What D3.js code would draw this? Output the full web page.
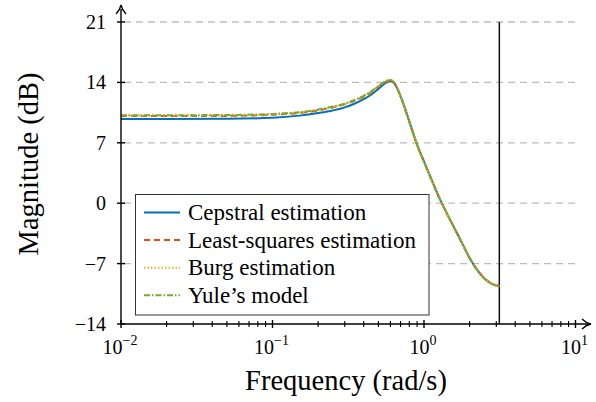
<!DOCTYPE html>
<html>
<head>
<meta charset="utf-8">
<script src="https://cdn.jsdelivr.net/npm/d3@7"></script>
<style>
  body { margin: 0; background: #fff; }
</style>
</head>
<body>
<div id="chart"></div>
<script>
// frequency samples (rad/s)
var freq = [0.01, 0.02, 0.05, 0.1, 0.15, 0.2, 0.25, 0.3, 0.35, 0.4, 0.45, 0.5, 0.55, 0.6,
  0.65, 0.7, 0.8, 0.9, 1.0, 1.1, 1.25, 1.4, 1.6, 1.8, 2.0, 2.25, 2.5, 2.75, 3.0, 3.14159];

var cepstral = [9.75, 9.75, 9.78, 9.9, 10.15, 10.45, 10.75, 11.1, 11.55, 12.05, 12.6, 13.25, 13.85, 14.15,
  13.65, 12.4, 9.5, 6.8, 4.85, 3.1, 0.8, -1.0, -3.0, -4.75, -6.35, -7.75, -8.7, -9.25, -9.52, -9.6];
var leastSquares = [10.1, 10.1, 10.12, 10.25, 10.45, 10.75, 11.1, 11.45, 11.9, 12.35, 12.9, 13.5, 14.0, 14.25,
  13.7, 12.4, 9.45, 6.75, 4.8, 3.05, 0.77, -1.02, -3.02, -4.77, -6.36, -7.76, -8.71, -9.26, -9.53, -9.62];
var burg = [10.15, 10.15, 10.17, 10.3, 10.5, 10.8, 11.15, 11.5, 11.95, 12.4, 12.95, 13.55, 14.05, 14.25,
  13.7, 12.35, 9.4, 6.7, 4.78, 3.03, 0.75, -1.04, -3.03, -4.78, -6.37, -7.77, -8.72, -9.27, -9.54, -9.62];
var yule = [10.2, 10.2, 10.22, 10.35, 10.55, 10.85, 11.2, 11.55, 12.0, 12.45, 13.0, 13.6, 14.1, 14.3,
  13.72, 12.35, 9.4, 6.7, 4.78, 3.03, 0.75, -1.04, -3.03, -4.78, -6.37, -7.77, -8.72, -9.27, -9.54, -9.62];

var seriesNames = ["Cepstral estimation", "Least-squares estimation", "Burg estimation", "Yule\u2019s model"];
var yTicks = [-14, -7, 0, 7, 14, 21];
var xTicks = [0.01, 0.1, 1, 10];
var xTickExp = ["\u22122", "\u22121", "0", "1"];
var cutoff = Math.PI;

var width = 596, height = 402;
var serif = "'Liberation Serif', 'DejaVu Serif', 'Noto Serif', 'Times New Roman', serif";

var x = d3.scaleLog().domain([0.01, 10]).range([121, 575.5]);
var y = d3.scaleLinear().domain([-14, 21]).range([324, 22]);

var svg = d3.select("#chart").append("svg")
  .attr("width", width)
  .attr("height", height)
  .attr("font-family", serif);

// dashed horizontal grid
svg.append("g")
  .selectAll("line")
  .data(yTicks.filter(function(d) { return d > -14; }))
  .enter().append("line")
  .attr("x1", x(0.01) + 3)
  .attr("x2", x(10))
  .attr("y1", function(d) { return y(d); })
  .attr("y2", function(d) { return y(d); })
  .attr("stroke", "#bdbdbd")
  .attr("stroke-width", 1.3)
  .attr("stroke-dasharray", "7,5");

// vertical line at the Nyquist frequency
svg.append("line")
  .attr("x1", x(cutoff)).attr("x2", x(cutoff))
  .attr("y1", y(21)).attr("y2", y(-14))
  .attr("stroke", "#111")
  .attr("stroke-width", 1.5);

// curves
var line = d3.line()
  .x(function(d) { return x(d[0]); })
  .y(function(d) { return y(d[1]); })
  .curve(d3.curveMonotoneX);

var series = [
  { vals: cepstral, color: "#0072BD", dash: null },
  { vals: leastSquares, color: "#D95319", dash: "6,4" },
  { vals: burg, color: "#EDB120", dash: "1.5,2" },
  { vals: yule, color: "#77AC30", dash: "6,2,1.5,2" }
];

svg.append("g")
  .selectAll("path")
  .data(series)
  .enter().append("path")
  .attr("d", function(s) { return line(freq.map(function(f, i) { return [f, s.vals[i]]; })); })
  .attr("fill", "none")
  .attr("stroke", function(s) { return s.color; })
  .attr("stroke-width", 2)
  .attr("stroke-dasharray", function(s) { return s.dash; });

// x axis with minor ticks
var minor = [];
for (var e = -2; e < 1; e++) {
  for (var m = 2; m <= 9; m++) minor.push(m * Math.pow(10, e));
}

var xAxis = svg.append("g");
xAxis.append("line")
  .attr("x1", x(0.01)).attr("x2", 588)
  .attr("y1", y(-14)).attr("y2", y(-14))
  .attr("stroke", "#000").attr("stroke-width", 1.4);
xAxis.selectAll("line.major")
  .data(xTicks).enter().append("line")
  .attr("class", "major")
  .attr("x1", function(d) { return x(d); }).attr("x2", function(d) { return x(d); })
  .attr("y1", y(-14) - 4).attr("y2", y(-14) + 4)
  .attr("stroke", "#000").attr("stroke-width", 1.4);
xAxis.selectAll("line.minor")
  .data(minor).enter().append("line")
  .attr("class", "minor")
  .attr("x1", function(d) { return x(d); }).attr("x2", function(d) { return x(d); })
  .attr("y1", y(-14) - 3).attr("y2", y(-14) + 3)
  .attr("stroke", "#000").attr("stroke-width", 1.1);

var xl = xAxis.selectAll("text")
  .data(xTicks).enter().append("text")
  .attr("x", function(d) { return x(d) - 1; })
  .attr("y", 354)
  .attr("text-anchor", "middle")
  .attr("font-size", 20);
xl.append("tspan").text("10");
xl.append("tspan")
  .attr("dy", -9)
  .attr("font-size", 14)
  .text(function(d, i) { return xTickExp[i]; });

// arrow on x axis
svg.append("path")
  .attr("d", "M582,319 Q586,323 591,324 Q586,325 582,329")
  .attr("fill", "none").attr("stroke", "#000").attr("stroke-width", 1.3);

// y axis
var yAxis = svg.append("g");
yAxis.append("line")
  .attr("x1", x(0.01)).attr("x2", x(0.01))
  .attr("y1", y(-14)).attr("y2", 9)
  .attr("stroke", "#000").attr("stroke-width", 1.4);
yAxis.selectAll("line.tick")
  .data(yTicks).enter().append("line")
  .attr("class", "tick")
  .attr("x1", x(0.01) - 4).attr("x2", x(0.01) + 4)
  .attr("y1", function(d) { return y(d); }).attr("y2", function(d) { return y(d); })
  .attr("stroke", "#000").attr("stroke-width", 1.4);
yAxis.selectAll("text")
  .data(yTicks).enter().append("text")
  .attr("x", 106)
  .attr("y", function(d) { return y(d) + 7; })
  .attr("text-anchor", "end")
  .attr("font-size", 20)
  .text(function(d) { return d < 0 ? "\u2212" + Math.abs(d) : d; });

svg.append("path")
  .attr("d", "M116,14 Q120,10 121,5 Q122,10 126,14")
  .attr("fill", "none").attr("stroke", "#000").attr("stroke-width", 1.3);

// axis titles
svg.append("text")
  .attr("x", 346).attr("y", 390)
  .attr("text-anchor", "middle")
  .attr("font-size", 28.5)
  .text("Frequency (rad/s)");

svg.append("text")
  .attr("transform", "translate(38,164)rotate(-90)")
  .attr("text-anchor", "middle")
  .attr("font-size", 28.5)
  .text("Magnitude (dB)");

// legend
var legend = svg.append("g");
legend.append("rect")
  .attr("x", 135.5).attr("y", 194.5)
  .attr("width", 293.5).attr("height", 120.5)
  .attr("fill", "#fff")
  .attr("stroke", "#333").attr("stroke-width", 1);

var rows = legend.selectAll("g.row")
  .data(series).enter().append("g")
  .attr("class", "row")
  .attr("transform", function(d, i) { return "translate(0," + (212.5 + i * 27.6) + ")"; });
rows.append("line")
  .attr("x1", 144).attr("x2", 180)
  .attr("stroke", function(s) { return s.color; })
  .attr("stroke-width", 2)
  .attr("stroke-dasharray", function(s) { return s.dash; });
rows.append("text")
  .attr("x", 188).attr("y", 7.5)
  .attr("font-size", 23)
  .text(function(d, i) { return seriesNames[i]; });
</script>
</body>
</html>
